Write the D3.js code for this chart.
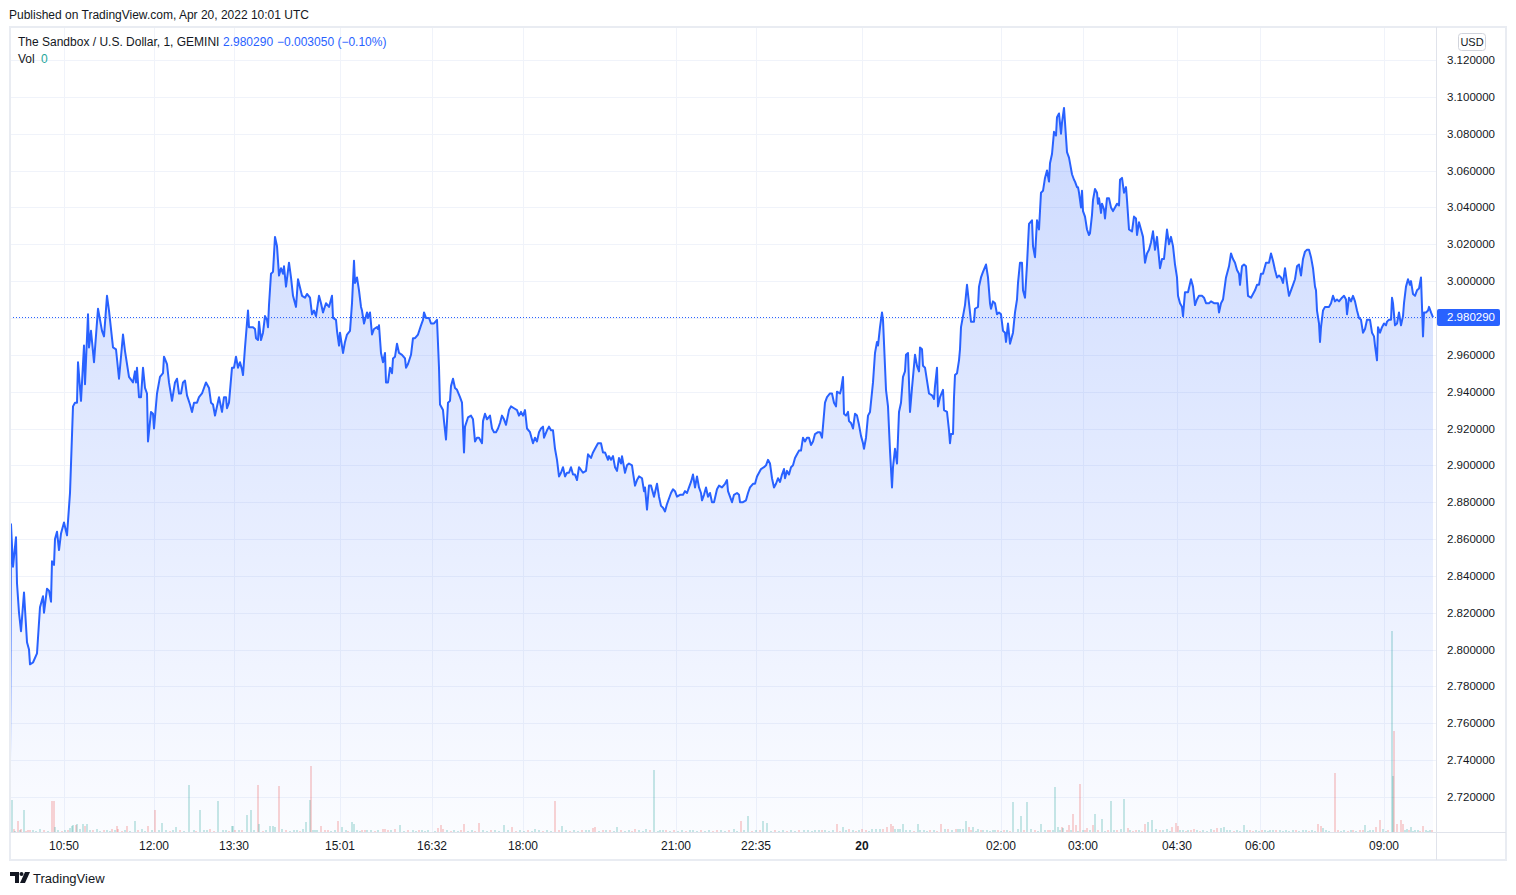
<!DOCTYPE html>
<html>
<head>
<meta charset="utf-8">
<script src="https://cdn.jsdelivr.net/npm/d3@7"></script>
<style>
  body { margin: 0; background: #ffffff; }
  text { font-family: "Liberation Sans", Arial, sans-serif; }
</style>
</head>
<body>
<div id="container"></div>
<script>
let w = 1516;
let h = 895;

// chart box (plot | price axis) and time axis strip
let plotLeft = 10, plotRight = 1436, plotTop = 27, plotBottom = 832, axisRight = 1506, axisBottom = 860;

// 1-minute bars, position = bar number in the series, [bar, close]
let price = [
  [0,2.740],[1,2.868],[3,2.845],[6,2.861],[7,2.836],[9,2.820],[11,2.810],[14,2.831],[17,2.804],[19,2.800],
  [20,2.792],[23,2.793],[27,2.798],[30,2.823],[33,2.829],[34,2.820],[37,2.833],[39,2.832],[41,2.826],[42,2.848],
  [44,2.846],[45,2.860],[47,2.864],[49,2.854],[51,2.863],[54,2.869],[57,2.862],[60,2.885],[63,2.932],[65,2.934],
  [67,2.934],[68,2.956],[71,2.935],[74,2.965],[75,2.944],[78,2.982],[79,2.964],[81,2.973],[84,2.956],[88,2.985],
  [92,2.973],[94,2.970],[97,2.992],[99,2.984],[103,2.964],[106,2.963],[109,2.947],[113,2.971],[115,2.962],[119,2.948],
  [123,2.945],[125,2.951],[126,2.945],[127,2.953],[129,2.937],[131,2.937],[133,2.953],[135,2.942],[137,2.939],[138,2.913],
  [141,2.929],[143,2.928],[144,2.920],[147,2.939],[150,2.948],[153,2.950],[154,2.959],[157,2.955],[159,2.945],[162,2.935],
  [165,2.945],[167,2.947],[169,2.939],[171,2.939],[173,2.945],[175,2.946],[177,2.938],[180,2.933],[182,2.929],[184,2.934],
  [187,2.934],[189,2.937],[192,2.939],[196,2.945],[199,2.942],[201,2.934],[203,2.933],[205,2.927],[207,2.932],[209,2.937],
  [212,2.929],[214,2.937],[216,2.937],[217,2.931],[219,2.934],[222,2.953],[224,2.953],[226,2.959],[228,2.953],[230,2.956],
  [232,2.952],[233,2.949],[235,2.964],[238,2.984],[239,2.975],[243,2.975],[245,2.974],[246,2.969],[248,2.968],[249,2.978],
  [251,2.968],[253,2.972],[255,2.981],[257,2.979],[258,2.975],[259,2.987],[261,3.004],[263,3.005],[265,3.024],[267,3.019],
  [269,3.003],[271,3.007],[273,3.004],[274,3.008],[276,2.997],[279,3.010],[281,3.002],[283,2.992],[286,2.986],[288,3.001],
  [292,2.992],[295,2.991],[297,2.993],[300,2.991],[302,2.982],[304,2.984],[306,2.981],[309,2.992],[311,2.988],[313,2.983],
  [316,2.988],[319,2.986],[320,2.988],[322,2.992],[323,2.980],[326,2.979],[327,2.973],[329,2.965],[330,2.972],[333,2.961],
  [335,2.967],[337,2.971],[340,2.973],[342,2.988],[344,3.011],[345,2.999],[347,3.002],[349,2.995],[351,2.986],[352,2.984],
  [354,2.977],[357,2.983],[358,2.980],[360,2.983],[362,2.971],[364,2.974],[367,2.975],[368,2.974],[369,2.976],[371,2.961],
  [373,2.956],[375,2.961],[376,2.945],[378,2.945],[380,2.953],[382,2.950],[383,2.958],[385,2.959],[387,2.966],[389,2.961],
  [392,2.960],[395,2.958],[396,2.953],[398,2.955],[401,2.960],[403,2.969],[405,2.969],[408,2.971],[411,2.976],[413,2.979],
  [414,2.983],[416,2.980],[419,2.980],[421,2.977],[424,2.977],[427,2.979],[429,2.953],[430,2.933],[433,2.930],[434,2.924],
  [436,2.914],[438,2.934],[440,2.935],[441,2.943],[443,2.947],[445,2.942],[447,2.941],[450,2.937],[452,2.934],[454,2.907],
  [455,2.921],[458,2.926],[461,2.927],[463,2.925],[465,2.913],[467,2.915],[469,2.915],[472,2.912],[473,2.924],[475,2.928],
  [477,2.925],[480,2.927],[482,2.920],[484,2.918],[486,2.918],[488,2.920],[490,2.923],[492,2.927],[494,2.925],[496,2.922],
  [499,2.930],[501,2.932],[504,2.931],[507,2.930],[509,2.927],[511,2.929],[513,2.927],[515,2.930],[517,2.920],[520,2.918],
  [523,2.912],[525,2.915],[527,2.913],[529,2.918],[531,2.920],[533,2.921],[534,2.915],[537,2.919],[539,2.921],[541,2.919],
  [543,2.919],[545,2.909],[547,2.903],[549,2.894],[551,2.896],[553,2.899],[555,2.894],[557,2.896],[559,2.896],[561,2.899],
  [563,2.895],[565,2.895],[567,2.892],[569,2.899],[573,2.896],[576,2.897],[578,2.906],[581,2.904],[583,2.907],[585,2.909],
  [588,2.912],[591,2.912],[593,2.907],[595,2.907],[598,2.903],[599,2.905],[601,2.903],[603,2.905],[605,2.899],[607,2.897],
  [609,2.904],[611,2.901],[612,2.905],[615,2.896],[617,2.900],[619,2.901],[622,2.900],[623,2.896],[625,2.889],[627,2.892],
  [629,2.894],[632,2.893],[634,2.886],[635,2.888],[637,2.876],[639,2.889],[641,2.889],[644,2.883],[647,2.890],[649,2.883],
  [651,2.878],[653,2.877],[655,2.875],[657,2.879],[659,2.882],[661,2.885],[663,2.887],[665,2.886],[667,2.883],[670,2.884],
  [673,2.884],[675,2.886],[677,2.885],[679,2.888],[681,2.891],[683,2.895],[685,2.888],[687,2.894],[689,2.888],[691,2.885],
  [692,2.881],[694,2.884],[696,2.888],[698,2.883],[700,2.885],[702,2.880],[704,2.880],[707,2.887],[709,2.889],[712,2.888],
  [715,2.890],[717,2.892],[718,2.886],[720,2.883],[722,2.880],[724,2.884],[727,2.885],[729,2.884],[730,2.880],[733,2.880],
  [736,2.881],[738,2.885],[740,2.888],[743,2.890],[745,2.890],[747,2.894],[749,2.896],[751,2.898],[754,2.899],[756,2.900],
  [758,2.903],[760,2.901],[762,2.893],[764,2.888],[766,2.890],[768,2.893],[770,2.891],[772,2.895],[774,2.898],[775,2.893],
  [777,2.897],[779,2.895],[781,2.899],[783,2.900],[785,2.904],[787,2.906],[789,2.908],[791,2.908],[793,2.915],[795,2.913],
  [797,2.915],[799,2.915],[801,2.911],[803,2.913],[805,2.917],[808,2.918],[810,2.918],[812,2.915],[815,2.934],[817,2.937],
  [820,2.939],[822,2.939],[824,2.934],[826,2.932],[827,2.940],[830,2.939],[831,2.941],[833,2.948],[834,2.928],[836,2.927],
  [838,2.929],[839,2.924],[841,2.923],[843,2.920],[845,2.928],[847,2.927],[849,2.922],[851,2.916],[853,2.912],[854,2.909],
  [856,2.915],[858,2.927],[860,2.929],[863,2.945],[865,2.961],[867,2.967],[868,2.965],[870,2.975],[872,2.983],[873,2.979],
  [876,2.941],[878,2.932],[880,2.908],[882,2.888],[883,2.899],[885,2.909],[887,2.901],[889,2.929],[891,2.934],[893,2.948],
  [895,2.951],[896,2.960],[898,2.961],[900,2.929],[902,2.942],[905,2.960],[907,2.954],[909,2.951],[910,2.964],[912,2.963],
  [913,2.954],[915,2.953],[917,2.946],[919,2.939],[922,2.938],[924,2.936],[925,2.943],[927,2.953],[928,2.932],[930,2.937],
  [933,2.941],[934,2.930],[937,2.929],[939,2.919],[940,2.912],[941,2.917],[943,2.917],[944,2.937],[945,2.949],[947,2.950],
  [949,2.957],[950,2.963],[951,2.975],[953,2.981],[955,2.987],[957,2.998],[959,2.988],[961,2.978],[964,2.978],[965,2.985],
  [968,2.986],[969,2.997],[971,3.002],[973,3.005],[976,3.009],[978,3.002],[980,2.988],[981,2.985],[983,2.989],[985,2.988],
  [987,2.982],[989,2.983],[991,2.982],[993,2.973],[995,2.972],[996,2.967],[998,2.977],[1000,2.966],[1003,2.972],[1005,2.983],
  [1007,2.990],[1008,2.999],[1010,3.010],[1012,3.010],[1013,2.995],[1015,2.991],[1017,3.009],[1019,3.031],[1022,3.033],[1023,3.019],
  [1025,3.013],[1027,3.033],[1029,3.028],[1031,3.048],[1033,3.049],[1035,3.056],[1037,3.060],[1039,3.054],[1040,3.064],[1042,3.069],
  [1044,3.081],[1046,3.079],[1047,3.089],[1049,3.091],[1051,3.080],[1052,3.086],[1054,3.094],[1055,3.086],[1057,3.070],[1059,3.067],
  [1060,3.064],[1062,3.058],[1064,3.055],[1065,3.054],[1067,3.051],[1068,3.051],[1069,3.048],[1071,3.040],[1072,3.049],[1073,3.038],
  [1075,3.035],[1077,3.028],[1079,3.025],[1080,3.026],[1082,3.036],[1083,3.044],[1085,3.050],[1087,3.048],[1088,3.042],[1089,3.045],
  [1091,3.037],[1092,3.042],[1094,3.039],[1095,3.034],[1097,3.045],[1099,3.045],[1101,3.040],[1103,3.038],[1105,3.040],[1107,3.042],
  [1109,3.041],[1110,3.055],[1112,3.056],[1114,3.048],[1116,3.051],[1117,3.044],[1119,3.028],[1122,3.027],[1124,3.035],[1126,3.034],
  [1127,3.025],[1129,3.032],[1131,3.028],[1133,3.024],[1135,3.010],[1137,3.015],[1139,3.017],[1141,3.021],[1143,3.027],[1145,3.017],
  [1147,3.024],[1150,3.007],[1152,3.012],[1154,3.012],[1157,3.028],[1159,3.020],[1161,3.024],[1163,3.019],[1165,3.009],[1167,3.002],
  [1168,2.992],[1170,2.988],[1172,2.986],[1173,2.981],[1175,2.994],[1178,2.994],[1181,3.001],[1183,2.997],[1185,2.987],[1187,2.990],
  [1189,2.992],[1192,2.992],[1194,2.991],[1196,2.988],[1199,2.988],[1201,2.989],[1204,2.988],[1206,2.988],[1208,2.988],[1209,2.983],
  [1211,2.988],[1213,2.990],[1216,3.002],[1219,3.008],[1221,3.015],[1223,3.012],[1225,3.010],[1227,3.006],[1229,3.004],[1230,2.998],
  [1232,3.008],[1234,3.009],[1236,3.008],[1238,2.992],[1241,2.991],[1243,2.993],[1245,2.995],[1247,2.998],[1249,2.998],[1251,3.004],
  [1253,3.004],[1256,3.010],[1259,3.010],[1261,3.015],[1263,3.011],[1265,3.006],[1267,3.002],[1269,3.003],[1271,3.002],[1273,2.999],
  [1275,3.007],[1277,2.999],[1279,2.992],[1281,2.995],[1283,2.998],[1285,3.001],[1287,3.008],[1289,3.009],[1291,3.003],[1293,3.012],
  [1295,3.016],[1297,3.017],[1299,3.017],[1301,3.013],[1303,3.007],[1305,2.997],[1306,2.995],[1307,2.984],[1309,2.977],[1310,2.967],
  [1311,2.975],[1313,2.984],[1315,2.986],[1317,2.986],[1319,2.986],[1321,2.988],[1323,2.992],[1325,2.989],[1327,2.990],[1329,2.989],
  [1332,2.991],[1334,2.992],[1336,2.990],[1337,2.982],[1339,2.991],[1341,2.989],[1343,2.992],[1345,2.989],[1347,2.984],[1349,2.980],
  [1351,2.979],[1353,2.972],[1355,2.974],[1357,2.979],[1360,2.979],[1362,2.972],[1364,2.970],[1365,2.965],[1367,2.957],[1368,2.975],
  [1370,2.972],[1372,2.975],[1374,2.977],[1376,2.976],[1377,2.978],[1379,2.979],[1381,2.979],[1382,2.991],[1383,2.988],[1385,2.976],
  [1387,2.977],[1389,2.983],[1391,2.976],[1393,2.981],[1394,2.988],[1396,2.997],[1398,3.001],[1400,2.998],[1401,3.000],[1403,2.993],
  [1405,2.992],[1407,2.995],[1409,2.996],[1411,3.002],[1413,2.970],[1414,2.983],[1416,2.983],[1418,2.984],[1419,2.986],[1421,2.983],
  [1423,2.980290]
];

// volume, [bar, volume, 1 = up / 0 = down]
let volume = [
  [2,32,1],[4,3,0],[5,1,1],[8,11,0],[10,2,1],[11,3,0],[14,22,1],[16,1,0],[18,2,0],[20,2,0],[23,2,1],[26,1,1],[30,3,1],[34,2,0],
  [38,1,1],[42,31,0],[44,31,0],[45,5,1],[48,2,1],[52,1,0],[55,2,1],[58,2,0],[60,4,1],[62,6,1],[63,7,1],[66,7,0],[67,8,1],
  [70,3,1],[73,8,1],[75,6,0],[77,8,1],[80,2,1],[83,2,0],[87,3,1],[90,1,1],[94,2,0],[97,2,1],[100,1,1],[102,3,0],[105,2,1],
  [107,6,0],[108,3,0],[112,1,0],[115,2,1],[117,6,0],[120,1,1],[125,11,1],[128,2,0],[132,3,1],[135,1,1],[138,6,0],[142,2,1],
  [145,22,0],[149,2,1],[152,9,1],[156,2,1],[160,1,0],[163,2,1],[166,5,1],[170,2,0],[174,1,1],[179,47,1],[184,2,1],[186,1,0],
  [190,22,1],[194,2,1],[197,2,1],[200,3,0],[204,1,0],[208,31,1],[213,2,1],[216,2,1],[219,1,0],[222,6,1],[223,6,1],[225,2,0],
  [229,2,1],[232,2,0],[237,17,1],[241,22,1],[244,2,1],[248,47,0],[249,8,1],[253,1,0],[256,2,1],[260,6,1],[263,6,1],[265,5,1],
  [269,46,0],[272,3,1],[276,2,0],[280,1,1],[284,2,1],[287,2,1],[290,1,0],[293,3,1],[296,10,1],[300,32,1],[301,66,0],[303,2,1],
  [305,2,1],[307,2,1],[311,6,0],[315,2,0],[318,2,0],[321,1,1],[325,2,1],[328,11,0],[332,5,1],[336,2,1],[338,1,0],[342,10,1],
  [344,8,1],[347,2,1],[350,1,1],[352,2,0],[355,2,0],[357,2,1],[361,2,1],[365,1,0],[368,2,1],[373,3,0],[375,3,0],[378,2,0],
  [381,2,1],[385,3,0],[390,7,1],[394,1,1],[398,2,0],[403,2,1],[406,1,1],[409,2,0],[412,2,1],[415,1,1],[418,2,1],[425,1,1],
  [428,4,0],[431,7,0],[433,3,0],[437,2,1],[441,1,0],[444,2,1],[448,1,1],[451,2,0],[454,8,0],[458,1,1],[462,2,1],[465,1,0],
  [469,9,0],[473,2,1],[477,1,1],[481,2,0],[485,2,1],[489,1,1],[494,7,1],[498,2,1],[502,5,0],[506,1,0],[510,2,1],[514,1,1],
  [518,2,0],[522,1,1],[525,3,1],[529,2,1],[533,1,0],[537,2,1],[541,1,1],[545,31,0],[549,2,0],[552,6,1],[556,2,1],[560,1,0],
  [564,2,1],[568,1,1],[572,2,0],[576,2,1],[579,2,1],[583,4,0],[585,5,0],[589,1,1],[593,2,0],[596,2,1],[600,2,0],[604,1,1],
  [607,5,1],[611,2,0],[615,1,1],[619,2,1],[622,1,0],[625,3,0],[629,2,1],[633,1,1],[636,3,1],[640,2,0],[644,62,1],[648,1,1],
  [650,2,1],[653,2,1],[656,2,0],[660,1,1],[664,2,0],[668,1,1],[672,2,1],[676,1,0],[680,2,1],[683,2,1],[687,1,1],[691,2,0],
  [695,1,1],[699,2,1],[703,1,0],[707,2,0],[711,2,1],[715,1,1],[719,2,0],[724,3,1],[727,1,1],[731,11,0],[734,2,1],[738,16,1],
  [742,1,0],[746,2,1],[750,2,0],[753,11,1],[757,9,1],[761,1,1],[765,2,0],[769,1,1],[773,2,1],[777,1,0],[781,2,1],[785,1,1],
  [789,2,0],[794,2,1],[798,2,1],[802,1,1],[805,2,1],[809,2,1],[812,2,0],[815,2,1],[819,1,1],[823,2,1],[827,8,0],[830,1,0],
  [833,5,1],[836,2,1],[839,3,0],[843,2,1],[846,1,0],[849,2,1],[852,3,0],[856,2,0],[859,1,1],[862,3,1],[866,3,1],[870,3,1],
  [873,3,0],[877,5,0],[881,8,0],[883,6,0],[885,3,1],[888,3,1],[890,3,1],[893,8,1],[896,2,1],[900,2,1],[904,1,0],[908,8,1],
  [910,2,1],[914,2,1],[917,1,1],[920,2,0],[924,2,1],[927,1,0],[931,8,0],[935,3,1],[938,3,0],[942,2,1],[946,3,0],[948,3,1],
  [950,3,1],[953,3,1],[956,11,1],[959,5,0],[961,2,0],[963,5,1],[966,1,1],[968,3,1],[971,2,0],[973,2,1],[977,2,1],[980,1,1],
  [983,2,1],[985,2,1],[988,2,0],[991,1,1],[994,2,0],[997,2,1],[1000,1,0],[1003,30,1],[1008,3,1],[1011,16,1],[1014,2,0],
  [1017,30,1],[1021,3,1],[1025,2,0],[1028,1,1],[1031,8,1],[1035,2,1],[1038,2,0],[1040,2,0],[1043,2,1],[1045,45,1],[1048,5,1],
  [1050,2,1],[1052,5,0],[1053,4,1],[1057,2,0],[1059,7,0],[1061,2,1],[1063,18,0],[1066,7,0],[1068,1,1],[1070,48,0],[1073,2,1],
  [1075,2,0],[1077,4,0],[1080,2,1],[1083,7,0],[1085,18,1],[1088,2,0],[1092,13,1],[1095,1,1],[1098,2,0],[1101,31,1],[1104,2,1],
  [1107,2,0],[1111,3,1],[1114,33,1],[1118,4,0],[1120,2,1],[1123,1,0],[1126,2,0],[1129,2,1],[1132,1,0],[1135,8,0],[1138,10,1],
  [1142,12,1],[1146,3,1],[1150,2,0],[1153,2,1],[1157,3,1],[1160,1,1],[1162,5,0],[1166,9,0],[1168,6,0],[1170,2,1],[1173,2,1],
  [1176,1,0],[1178,2,1],[1181,2,0],[1184,3,0],[1187,2,1],[1190,1,0],[1193,2,1],[1197,1,1],[1201,3,1],[1204,2,0],[1207,4,0],
  [1211,4,1],[1214,5,1],[1217,2,1],[1220,2,1],[1224,1,0],[1227,2,1],[1230,1,1],[1234,7,1],[1237,2,1],[1240,2,0],[1243,1,0],
  [1246,2,1],[1249,1,1],[1252,2,0],[1255,2,1],[1258,1,1],[1260,2,1],[1263,2,1],[1266,2,0],[1270,2,1],[1273,1,1],[1276,2,1],
  [1279,1,1],[1283,2,1],[1286,2,0],[1289,1,1],[1293,2,1],[1296,2,1],[1299,1,0],[1302,2,1],[1305,1,1],[1308,8,0],[1311,6,0],
  [1313,4,1],[1316,2,1],[1319,1,1],[1325,59,0],[1328,2,0],[1331,1,1],[1334,2,1],[1338,1,0],[1341,2,1],[1343,2,0],[1346,1,1],
  [1350,2,0],[1353,2,0],[1355,7,1],[1358,1,1],[1360,2,1],[1363,2,1],[1366,5,0],[1370,12,0],[1373,3,1],[1376,1,1],[1378,2,0],
  [1382,201,1],[1383,56,1],[1384,101,0],[1387,8,0],[1391,12,0],[1393,8,0],[1395,2,1],[1397,3,1],[1399,2,0],[1401,5,1],
  [1403,1,1],[1405,2,1],[1408,2,1],[1410,1,0],[1413,6,0],[1416,2,1],[1418,1,1],[1420,2,1],[1422,2,0]
];

// time axis: label and the bar it sits on
let timeLabels = ["10:50","12:00","13:30","15:01","16:32","18:00","21:00","22:35","20","02:00","03:00","04:30","06:00","09:00"];
let timeBars = [54,144,224,330,422,513,666,746,852,991,1073,1167,1250,1374];
let priceTicks = [2.72,2.74,2.76,2.78,2.80,2.82,2.84,2.86,2.88,2.90,2.92,2.94,2.96,2.98,3.00,3.02,3.04,3.06,3.08,3.10,3.12];
let lastPrice = 2.980290;

let viz = d3.select("#container")
  .append("svg")
    .attr("width", w)
    .attr("height", h)
    .style("background-color", "#ffffff")
;

let xScale = d3.scaleLinear().domain([0, 1424]).range([plotLeft, plotLeft + 1424]);
let yScale = d3.scaleLinear().domain([2.72, 3.12]).range([797, 60]);
let vScale = d3.scaleLinear().domain([0, d3.max(volume, d => d[1])]).range([plotBottom, 631]);

let defs = viz.append("defs");
defs.append("clipPath").attr("id", "plotclip")
  .append("rect")
    .attr("x", plotLeft).attr("y", plotTop)
    .attr("width", plotRight - plotLeft).attr("height", plotBottom - plotTop);
let grad = defs.append("linearGradient")
    .attr("id", "areafill")
    .attr("gradientUnits", "userSpaceOnUse")
    .attr("x1", 0).attr("x2", 0)
    .attr("y1", yScale(d3.max(price, d => d[1])))
    .attr("y2", plotBottom);
grad.append("stop").attr("offset", 0).attr("stop-color", "rgba(41,98,255,0.24)");
grad.append("stop").attr("offset", 1).attr("stop-color", "rgba(41,98,255,0.02)");

// grid
let grid = viz.append("g").attr("class", "grid");
grid.selectAll(".hgrid").data(priceTicks).enter()
  .append("line")
    .attr("x1", plotLeft).attr("x2", plotRight)
    .attr("y1", d => Math.round(yScale(d)) + 0.5)
    .attr("y2", d => Math.round(yScale(d)) + 0.5)
    .attr("stroke", "#f0f3fa");
grid.selectAll(".vgrid").data(timeBars).enter()
  .append("line")
    .attr("x1", d => Math.round(xScale(d)) + 0.5)
    .attr("x2", d => Math.round(xScale(d)) + 0.5)
    .attr("y1", plotTop).attr("y2", plotBottom)
    .attr("stroke", "#f0f3fa");

let plot = viz.append("g").attr("clip-path", "url(#plotclip)");

// volume bars
plot.selectAll(".vol").data(volume).enter()
  .append("rect")
    .attr("x", d => xScale(d[0]) - 0.5)
    .attr("width", 1)
    .attr("y", d => vScale(d[1]))
    .attr("height", d => plotBottom - vScale(d[1]))
    .attr("fill", d => d[2] ? "rgba(38,166,154,0.5)" : "rgba(239,83,80,0.5)");

// area + line
let area = d3.area()
  .x(d => xScale(d[0]))
  .y0(plotBottom)
  .y1(d => yScale(d[1]));
let line = d3.line()
  .x(d => xScale(d[0]))
  .y(d => yScale(d[1]));

plot.append("path")
    .datum(price)
    .attr("d", area)
    .attr("fill", "url(#areafill)");
plot.append("path")
    .datum(price)
    .attr("d", line)
    .attr("fill", "none")
    .attr("stroke", "#2962ff")
    .attr("stroke-width", 2)
    .attr("stroke-linejoin", "round");

// last price dotted line
viz.append("line")
    .attr("x1", plotLeft).attr("x2", plotRight)
    .attr("y1", Math.round(yScale(lastPrice)) + 0.5)
    .attr("y2", Math.round(yScale(lastPrice)) + 0.5)
    .attr("stroke", "#2962ff")
    .attr("stroke-width", 1)
    .attr("stroke-dasharray", "1,2");

// frame and separators
viz.append("rect")
    .attr("x", plotLeft).attr("y", plotTop)
    .attr("width", axisRight - plotLeft).attr("height", axisBottom - plotTop)
    .attr("fill", "none")
    .attr("stroke", "#e9ecf2")
    .attr("stroke-width", 2);
viz.append("line")
    .attr("x1", plotRight + 0.5).attr("x2", plotRight + 0.5)
    .attr("y1", plotTop).attr("y2", axisBottom)
    .attr("stroke", "#e0e3eb");
viz.append("line")
    .attr("x1", plotLeft).attr("x2", axisRight)
    .attr("y1", plotBottom + 0.5).attr("y2", plotBottom + 0.5)
    .attr("stroke", "#e0e3eb");

// price axis
viz.append("g").selectAll("text").data(priceTicks).enter()
  .append("text")
    .attr("x", 1447)
    .attr("y", d => yScale(d))
    .attr("dy", "0.35em")
    .attr("fill", "#131722")
    .style("font-size", "11.5px")
    .text(d => d.toFixed(6));

let tag = viz.append("g");
tag.append("rect")
    .attr("x", 1437).attr("y", yScale(lastPrice) - 8.5)
    .attr("width", 63).attr("height", 17)
    .attr("rx", 2)
    .attr("fill", "#2962ff");
tag.append("text")
    .attr("x", 1447)
    .attr("y", yScale(lastPrice))
    .attr("dy", "0.35em")
    .attr("fill", "#ffffff")
    .style("font-size", "11.5px")
    .text(lastPrice.toFixed(6));

viz.append("rect")
    .attr("x", 1458.5).attr("y", 33.5)
    .attr("width", 27).attr("height", 17)
    .attr("rx", 3)
    .attr("fill", "#ffffff")
    .attr("stroke", "#d1d4dc");
viz.append("text")
    .attr("x", 1472).attr("y", 42)
    .attr("dy", "0.35em")
    .attr("text-anchor", "middle")
    .attr("fill", "#131722")
    .style("font-size", "11px")
    .text("USD");

// time axis
viz.append("g").selectAll("text").data(timeLabels).enter()
  .append("text")
    .attr("x", (d, i) => xScale(timeBars[i]))
    .attr("y", 846)
    .attr("dy", "0.35em")
    .attr("text-anchor", "middle")
    .attr("fill", "#131722")
    .style("font-size", "12px")
    .style("font-weight", d => d == "20" ? "bold" : "normal")
    .text(d => d);

// header + legend
viz.append("text")
    .attr("x", 9).attr("y", 15)
    .attr("dy", "0.35em")
    .attr("fill", "#131722")
    .style("font-size", "12px")
    .text("Published on TradingView.com, Apr 20, 2022 10:01 UTC");

viz.append("text")
    .attr("x", 18).attr("y", 42)
    .attr("dy", "0.35em")
    .attr("fill", "#131722")
    .style("font-size", "12px")
    .text("The Sandbox / U.S. Dollar, 1, GEMINI");
viz.append("text")
    .attr("x", 223).attr("y", 42)
    .attr("dy", "0.35em")
    .attr("fill", "#2962ff")
    .style("font-size", "12px")
    .text(lastPrice.toFixed(6));
viz.append("text")
    .attr("x", 277).attr("y", 42)
    .attr("dy", "0.35em")
    .attr("fill", "#2962ff")
    .style("font-size", "12px")
    .text("\u22120.003050 (\u22120.10%)");
viz.append("text")
    .attr("x", 18).attr("y", 59)
    .attr("dy", "0.35em")
    .attr("fill", "#131722")
    .style("font-size", "12px")
    .text("Vol");
viz.append("text")
    .attr("x", 41).attr("y", 59)
    .attr("dy", "0.35em")
    .attr("fill", "#26a69a")
    .style("font-size", "12px")
    .text("0");

// footer logo
let logo = viz.append("g").attr("fill", "#131722");
logo.append("path").attr("d", "M10,872 H19 V883 H15 V876 H10 Z");
logo.append("circle").attr("cx", 21.5).attr("cy", 874).attr("r", 2);
logo.append("path").attr("d", "M25,872 H30 L25,883 H20 Z");
viz.append("text")
    .attr("x", 33).attr("y", 878)
    .attr("dy", "0.35em")
    .attr("fill", "#131722")
    .style("font-size", "13px")
    .text("TradingView");
</script>
</body>
</html>
